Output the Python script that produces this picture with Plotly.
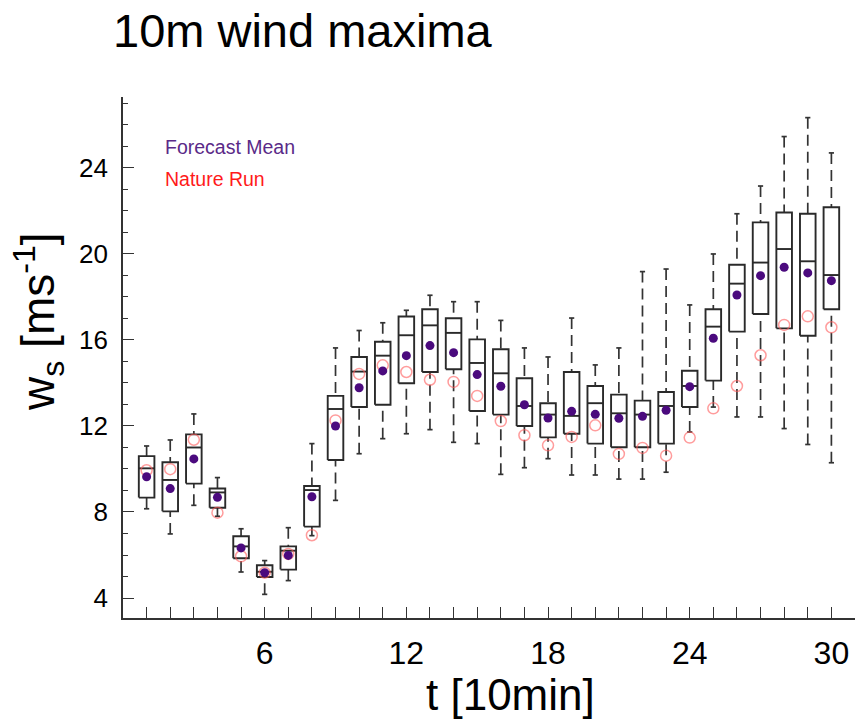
import plotly.graph_objects as go

# ---- data ----
t = list(range(1, 31))
lower = [8.15, 6.98, 8.31, 7.80, 5.21, 4.17, 4.81, 6.90, 8.54, 10.71,
         11.41, 11.64, 11.83, 11.24, 11.18, 9.75, 10.06, 10.48, 9.72, 9.72,
         9.53, 9.53, 9.85, 11.72, 12.88, 12.42, 12.42, 11.88, 11.14, 10.29]
q1 = [8.67, 8.03, 9.32, 8.20, 5.85, 4.98, 5.32, 7.32, 10.42, 12.88,
      12.99, 13.99, 14.51, 14.64, 12.70, 12.53, 12.00, 11.47, 11.64, 11.18,
      11.01, 11.01, 11.18, 12.88, 14.11, 16.39, 17.21, 16.54, 16.20, 17.43]
median = [10.03, 9.49, 11.00, 8.91, 6.40, 5.22, 6.20, 9.02, 12.79, 14.53,
          15.27, 16.22, 16.68, 16.33, 14.93, 14.45, 12.93, 12.53, 12.47, 13.06,
          12.59, 12.53, 12.93, 13.86, 16.62, 18.62, 19.60, 20.23, 19.66, 19.02]
q3 = [10.60, 10.31, 11.61, 9.09, 6.87, 5.52, 6.40, 9.21, 13.40, 15.21,
      15.92, 17.09, 17.43, 17.01, 16.03, 15.57, 14.22, 13.06, 14.51, 13.86,
      13.46, 13.18, 13.58, 14.57, 17.43, 19.50, 21.47, 21.93, 21.87, 22.17]
upper = [11.07, 11.35, 12.56, 9.60, 7.22, 5.74, 7.27, 11.18, 15.63, 16.44,
         16.80, 17.38, 18.08, 17.78, 17.78, 16.91, 15.63, 15.21, 17.02, 14.84,
         15.63, 19.18, 19.30, 17.63, 20.00, 21.87, 23.16, 25.46, 26.34, 24.70]
forecast_mean = [9.64, 9.09, 10.47, 8.68, 6.33, 5.18, 5.98, 8.71, 12.00, 13.78,
                 14.56, 15.27, 15.74, 15.41, 14.39, 13.85, 12.99, 12.37, 12.68, 12.54,
                 12.36, 12.45, 12.73, 13.83, 16.08, 18.09, 18.99, 19.38, 19.12, 18.76]
nature_run = [9.94, 9.99, 11.36, 7.97, 5.94, 5.18, 6.05, 6.92, 12.26, 14.42,
              14.82, 14.51, 14.15, 14.05, 13.40, 12.23, 11.57, 11.10, 11.49, 12.03,
              10.70, 10.98, 10.62, 11.46, 12.82, 13.86, 15.29, 16.70, 17.10, 16.59]
x_tick_labels = {6: "6", 12: "12", 18: "18", 24: "24", 30: "30"}

BOX_HALF = 0.33
CAP_HALF = 0.11
FONT = "Liberation Sans, Arial, sans-serif"

box_x, box_y = [], []
med_x, med_y = [], []
wh_x, wh_y = [], []
cap_x, cap_y = [], []
for i, xi in enumerate(t):
    box_x += [xi - BOX_HALF, xi + BOX_HALF, xi + BOX_HALF, xi - BOX_HALF, xi - BOX_HALF, None]
    box_y += [q1[i], q1[i], q3[i], q3[i], q1[i], None]
    med_x += [xi - BOX_HALF, xi + BOX_HALF, None]
    med_y += [median[i], median[i], None]
    wh_x += [xi, xi, None, xi, xi, None]
    wh_y += [upper[i], q3[i], None, lower[i], q1[i], None]
    cap_x += [xi - CAP_HALF, xi + CAP_HALF, None, xi - CAP_HALF, xi + CAP_HALF, None]
    cap_y += [upper[i], upper[i], None, lower[i], lower[i], None]

fig = go.Figure()
fig.add_trace(go.Scatter(x=wh_x, y=wh_y, mode="lines", hoverinfo="skip",
                         line=dict(color="#333333", width=1.7, dash="11px,6px")))
fig.add_trace(go.Scatter(x=cap_x, y=cap_y, mode="lines", hoverinfo="skip",
                         line=dict(color="#333333", width=1.7)))
fig.add_trace(go.Scatter(x=box_x, y=box_y, mode="lines", hoverinfo="skip",
                         line=dict(color="#2a2a2a", width=1.9)))
fig.add_trace(go.Scatter(x=med_x, y=med_y, mode="lines", hoverinfo="skip",
                         line=dict(color="#2a2a2a", width=1.9)))
fig.add_trace(go.Scatter(x=t, y=nature_run, mode="markers", name="Nature Run",
                         marker=dict(symbol="circle-open", size=11,
                                     line=dict(color="rgba(255,90,90,0.6)", width=1.5),
                                     color="rgba(255,90,90,0.6)")))
fig.add_trace(go.Scatter(x=t, y=forecast_mean, mode="markers", name="Forecast Mean",
                         marker=dict(symbol="circle", size=9, color="#4b0a7e",
                                     line=dict(width=0))))

fig.update_layout(
    width=863, height=720,
    margin=dict(l=123, r=8, t=97, b=102),
    paper_bgcolor="white", plot_bgcolor="white",
    showlegend=False,
    font=dict(family=FONT, color="black"),
    title=dict(text="10m wind maxima", xref="container", yref="container",
               x=113 / 863, xanchor="left", y=1 - 31 / 720, yanchor="middle",
               font=dict(size=47, family=FONT, color="black")),
)
fig.update_xaxes(
    range=[0, 31.0], showgrid=False, zeroline=False,
    showline=True, linecolor="#333333", linewidth=1.6,
    tickmode="array", tickvals=t, ticktext=[x_tick_labels.get(v, "") for v in t],
    ticks="inside", ticklen=11, tickwidth=1.3, tickcolor="#333333",
    ticklabelstandoff=6,
    tickfont=dict(size=32, family=FONT, color="black"),
)
fig.update_yaxes(
    range=[3.07, 27.3], showgrid=False, zeroline=False,
    showline=True, linecolor="#333333", linewidth=1.6,
    tick0=0, dtick=4, ticks="inside", ticklen=11, tickwidth=1.3, tickcolor="#333333",
    ticklabelstandoff=8,
    minor=dict(ticks="inside", dtick=1, ticklen=5, tickwidth=1.3, tickcolor="#333333"),
    tickfont=dict(size=26, family=FONT, color="black"),
)

fig.add_annotation(text="Forecast Mean", xref="paper", yref="paper",
                   x=(163 - 123) / 732, y=(618 - 147) / 521, xanchor="left", yanchor="middle",
                   showarrow=False, font=dict(size=19.5, family=FONT, color="#5a2a88"))
fig.add_annotation(text="Nature Run", xref="paper", yref="paper",
                   x=(163 - 123) / 732, y=(618 - 179) / 521, xanchor="left", yanchor="middle",
                   showarrow=False, font=dict(size=19.5, family=FONT, color="#ff1a1a"))
fig.add_annotation(text="t [10min]", xref="paper", yref="paper",
                   x=(510 - 123) / 732, y=(618 - 694) / 521, xanchor="center", yanchor="middle",
                   showarrow=False, font=dict(size=44, family=FONT, color="black"))
fig.add_annotation(text="w<sub>s</sub> [ms<sup>-1</sup>]", xref="paper", yref="paper",
                   x=(38 - 123) / 732, y=(618 - 322) / 521, xanchor="center", yanchor="middle",
                   textangle=-90, showarrow=False,
                   font=dict(size=46, family=FONT, color="black"))

fig.write_html("out.html")
